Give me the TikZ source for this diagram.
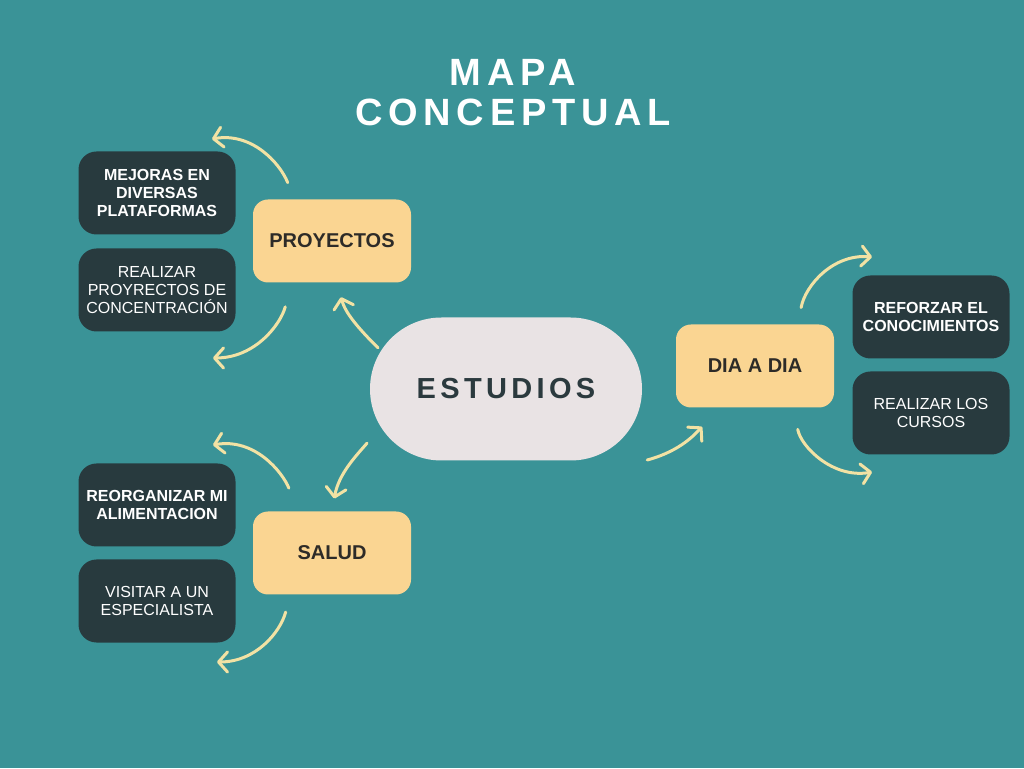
\documentclass[tikz,border=0pt]{standalone}
\usepackage{fontspec}
\setmainfont{Liberation Sans}
\usetikzlibrary{arrows.meta, shapes.misc}
\definecolor{mapteal}{HTML}{3A9397}
\definecolor{boxdark}{HTML}{283A3E}
\definecolor{boxyellow}{HTML}{FAD592}
\definecolor{ovalgrey}{HTML}{E9E3E4}
\definecolor{arrowcream}{HTML}{F2E2A4}
\definecolor{inkdark}{HTML}{2D2B28}
\definecolor{inkslate}{HTML}{2B3A3E}

\begin{document}
\begin{tikzpicture}[x=1pt, y=1pt,
  topicbox/.style={fill=boxyellow, rounded corners=15pt, minimum width=158pt, minimum height=83pt, inner sep=0pt, text=inkdark, font=\fontsize{20}{22}\selectfont\bfseries},
  ideabox/.style={fill=boxdark, rounded corners=18pt, minimum width=157pt, minimum height=83pt, inner sep=0pt, text=white, align=center, font=\fontsize{16}{18}\selectfont},
  curvy/.style={draw=arrowcream, line width=3pt, line cap=round, -{Straight Barb[length=9pt, width=20pt, round]}}
]
  \useasboundingbox (0,0) rectangle (1024,768);
  \fill[mapteal] (0,0) rectangle (1024,768);

  % title
  \node[white, font=\fontsize{38}{40}\selectfont\bfseries\addfontfeatures{LetterSpace=15}] (titleA) at (513,696) {MAPA};
  \node[white, font=\fontsize{38}{40}\selectfont\bfseries\addfontfeatures{LetterSpace=15}] (titleB) at (513,656) {CONCEPTUAL};

  % centre
  \node[rounded rectangle, fill=ovalgrey, minimum width=272pt, minimum height=143pt, inner sep=0pt, text=inkslate, font=\fontsize{29}{30}\selectfont\bfseries\addfontfeatures{LetterSpace=15}] (estudios) at (506,379) {ESTUDIOS};

  % topics
  \node[topicbox] (proy) at (332,527) {PROYECTOS};
  \node[topicbox] (salud) at (332,215) {SALUD};
  \node[topicbox] (dia) at (755,402) {DIA A DIA};

  % ideas
  \node[ideabox, font=\fontsize{16}{18}\selectfont\bfseries] (mejoras) at (157,575) {MEJORAS EN\\DIVERSAS\\PLATAFORMAS};
  \node[ideabox] (realizarp) at (157,478) {REALIZAR\\PROYRECTOS DE\\CONCENTRACIÓN};
  \node[ideabox, font=\fontsize{16}{18}\selectfont\bfseries] (reorg) at (157,263) {REORGANIZAR MI\\ALIMENTACION};
  \node[ideabox] (visitar) at (157,167) {VISITAR A UN\\ESPECIALISTA};
  \node[ideabox, font=\fontsize{16}{18}\selectfont\bfseries] (reforzar) at (931,451) {REFORZAR EL\\CONOCIMIENTOS};
  \node[ideabox] (cursos) at (931,355) {REALIZAR LOS\\CURSOS};

  % free ends of the side arrows
  \coordinate (pA) at (212,629);
  \coordinate (pB) at (213,410);
  \coordinate (sA) at (213,323);
  \coordinate (sB) at (217,106);
  \coordinate (dA) at (872,511);
  \coordinate (dB) at (872,296);

  % arrows from the centre
  \draw[curvy, shorten <=4pt, shorten >=15pt] (estudios.163) to[out=135, in=-75] (proy.277);
  \draw[curvy, shorten <=21pt, shorten >=13pt] (estudios.197) to[out=229, in=80] (salud.north);
  \draw[curvy, shorten >=27pt] ([shift={(5pt,-71pt)}]estudios.east) to[out=15, in=225] (dia.231);

  % side arrows
  \draw[curvy, shorten <=18pt] (proy.132) to[out=112, in=10] (pA);
  \draw[curvy, shorten <=25pt] (proy.226) to[out=255, in=0] (pB);
  \draw[curvy, shorten <=25pt] (salud.129) to[out=112, in=10] (sA);
  \draw[curvy, shorten <=18pt] (salud.225) to[out=255, in=0] (sB);
  \draw[curvy, shorten <=17pt] (dia.44) to[out=80, in=175] (dA);
  \draw[curvy, shorten <=22pt] (dia.313) to[out=-80, in=190] (dB);
\end{tikzpicture}
\end{document}
